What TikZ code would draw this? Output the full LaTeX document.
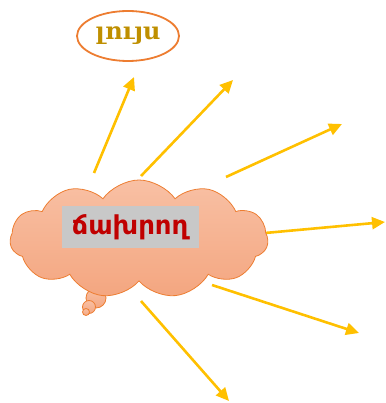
\documentclass[tikz,border=0pt]{standalone}
\usepackage{fontspec}
\usetikzlibrary{shapes.symbols,shapes.geometric,arrows.meta}
\newfontfamily\armsans{DejaVu Sans}
\newfontfamily\armserif{DejaVu Serif}
\definecolor{rayC}{HTML}{FFC000}
\definecolor{edgeC}{HTML}{ED7D31}
\definecolor{cloudTop}{RGB}{248,192,164}
\definecolor{cloudBot}{RGB}{244,166,128}
\definecolor{wordC}{HTML}{C00000}
\definecolor{lightC}{HTML}{BF8F00}
\definecolor{boxC}{RGB}{200,200,200}
\tikzset{
  ray/.style={draw=rayC, line width=2.6pt, -{Triangle[length=13pt,width=12pt]}},
  puff/.style={draw=edgeC, line width=0.8pt, top color=cloudTop, bottom color=cloudBot},
}
\begin{document}
\begin{tikzpicture}[x=1pt,y=-1pt]
\useasboundingbox (0,0) rectangle (385,403);
% rays
\coordinate (s1) at (94,173);  \coordinate (e1) at (134,77);
\coordinate (s2) at (141,176); \coordinate (e2) at (233,80);
\coordinate (s3) at (226,177); \coordinate (e3) at (342,124);
\coordinate (s4) at (265,233); \coordinate (e4) at (385,222);
\coordinate (s5) at (212,285); \coordinate (e5) at (359,333);
\coordinate (s6) at (141,301); \coordinate (e6) at (229,401);
\foreach \i in {1,...,6} {\draw[ray] (s\i) -- (e\i);}
% thought bubbles
\node[puff, circle, minimum size=20pt, inner sep=0] (b1) at (96,298) {};
\node[puff, circle, minimum size=13pt, inner sep=0] (b2) at (89,307) {};
\node[puff, circle, minimum size=7pt, inner sep=0] (b3) at (86,312) {};
% cloud
\node[puff, cloud, cloud puffs=11, cloud puff arc=110, aspect=2.1,
      minimum width=258pt, minimum height=118pt, inner sep=0] (cloud) at (139,239) {};
% label box
\node[fill=boxC, minimum width=137pt, minimum height=42pt, inner sep=0,
      font=\armsans\bfseries\fontsize{26}{30}\selectfont, text=wordC] (word) at (130,227) {ճախրող};
% ellipse
\node[ellipse, draw=edgeC, line width=1.8pt, fill=white, minimum width=102pt, minimum height=50pt,
      inner sep=0, font=\armserif\bfseries\fontsize{24}{28}\selectfont, text=lightC] (light) at (128,36) {լույս};
\end{tikzpicture}
\end{document}
